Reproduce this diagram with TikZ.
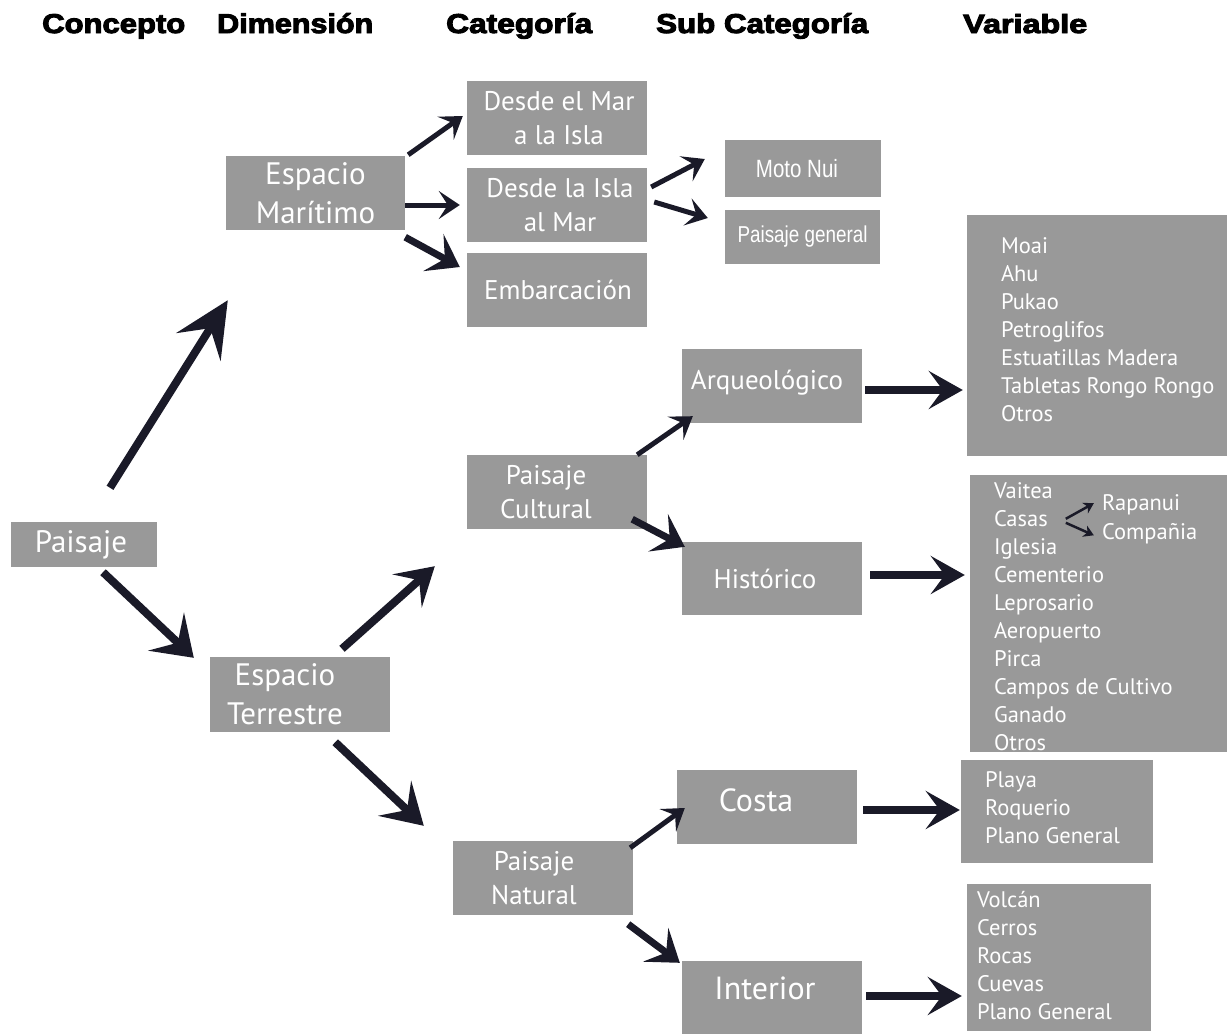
\documentclass[tikz,border=0pt]{standalone}
\usepackage{fontspec}
\setmainfont{PT Sans}
\newfontfamily\hdrfont{Liberation Sans}[BoldFeatures={FakeBold=3.5}]
\newfontfamily\condfont{Liberation Sans}[FakeStretch=0.82]
\usetikzlibrary{arrows.meta,calc}
\definecolor{boxgray}{RGB}{153,153,153}
\definecolor{arrowcol}{RGB}{26,26,40}
\begin{document}
\begin{tikzpicture}[x=1pt,y=-1pt,
  box/.style={fill=boxgray, inner sep=0pt},
  btext/.style={text=white, align=center, inner sep=0pt},
  dimf/.style={font=\fontsize{31}{39}\selectfont},
  catf/.style={font=\fontsize{27}{34}\selectfont},
  bigf/.style={font=\fontsize{32}{38}\selectfont},
  listf/.style={text=white, align=left, inner sep=0pt, font=\fontsize{22.5}{28}\selectfont},
  hdr/.style={anchor=base west, inner sep=0pt, font=\hdrfont\bfseries},
  arr/.style={draw=arrowcol, line width=#1},
  bigarr/.style={arr=8pt, -{Stealth[length=40pt,width=50pt,inset=17pt]}},
  midarr/.style={arr=5pt, -{Stealth[length=21pt,width=28pt,inset=9pt]}},
  heavyarr/.style={arr=7pt, -{Stealth[length=30pt,width=42pt,inset=13pt]}},
  harr/.style={arr=8pt, -{Stealth[length=34pt,width=38pt,inset=14pt]}},
  thinarr/.style={arr=2.5pt, -{Stealth[length=10pt,width=12pt,inset=3pt]}}
]
\useasboundingbox (0,0) rectangle (1227,1034);

% headers
\node[hdr] (h1) at (42,33) {\resizebox{143pt}{19pt}{Concepto}};
\node[hdr] (h2) at (217,33) {\resizebox{156pt}{20pt}{Dimensión}};
\node[hdr] (h3) at (446,33) {\resizebox{146pt}{20pt}{Categoría}};
\node[hdr] (h4) at (656,33) {\resizebox{212pt}{20pt}{Sub Categoría}};
\node[hdr] (h5) at (963,33) {\resizebox{124pt}{19pt}{Variable}};

% boxes
\node[box, minimum width=146pt, minimum height=45pt] (paisaje) at (84,544.5) {};
\node[btext, dimf] (paisaje-t) at ($(paisaje)+(-3,0)$) {Paisaje};

\node[box, minimum width=179pt, minimum height=74pt] (espM) at (315.5,193) {};
\node[btext, dimf] (espM-t) at (espM) {Espacio\\Marítimo};

\node[box, minimum width=180pt, minimum height=75pt] (espT) at (300,694.5) {};
\node[btext, dimf] (espT-t) at ($(espT)+(-15,0)$) {Espacio\\Terrestre};

\node[box, minimum width=180pt, minimum height=74pt] (mar) at (557,118) {};
\node[btext, catf] (mar-t) at ($(mar)+(2,0)$) {Desde el Mar\\a la Isla};

\node[box, minimum width=180pt, minimum height=74pt] (isla) at (557,205) {};
\node[btext, catf] (isla-t) at ($(isla)+(3,0)$) {Desde la Isla\\al Mar};

\node[box, minimum width=180pt, minimum height=74pt] (emb) at (557,290) {};
\node[btext, catf] (emb-t) at ($(emb)+(1,0)$) {Embarcación};

\node[box, minimum width=156pt, minimum height=57pt] (moto) at (803,168.5) {};
\node[btext, font=\condfont\fontsize{25}{30}\selectfont] (moto-t) at ($(moto)+(-6,0)$) {Moto Nui};

\node[box, minimum width=155pt, minimum height=54pt] (pgen) at (802.5,237) {};
\node[btext, font=\condfont\fontsize{23}{28}\selectfont] (pgen-t) at (pgen) {Paisaje general};

\node[box, minimum width=180pt, minimum height=74pt] (cult) at (557,492) {};
\node[btext, catf] (cult-t) at ($(cult)+(-11,0)$) {Paisaje\\Cultural};

\node[box, minimum width=180pt, minimum height=74pt] (arq) at (772,386) {};
\node[btext, catf] (arq-t) at ($(arq)+(-5,-3)$) {Arqueológico};

\node[box, minimum width=180pt, minimum height=73pt] (hist) at (772,578.5) {};
\node[btext, catf] (hist-t) at ($(hist)+(-7,0)$) {Histórico};

\node[box, minimum width=180pt, minimum height=74pt] (nat) at (543,878) {};
\node[btext, catf] (nat-t) at ($(nat)+(-9,0)$) {Paisaje\\Natural};

\node[box, minimum width=180pt, minimum height=74pt] (costa) at (767,807) {};
\node[btext, bigf] (costa-t) at ($(costa)+(-11,-7)$) {Costa};

\node[box, minimum width=180pt, minimum height=73pt] (inter) at (772,997.5) {};
\node[btext, bigf] (inter-t) at ($(inter)+(-7,-9)$) {Interior};

% variable boxes
\node[box, minimum width=260pt, minimum height=241pt] (varA) at (1097,335.5) {};
\node[listf, anchor=north west] (varA-t) at ($(varA.north west)+(34,23)$)
  {Moai\\Ahu\\Pukao\\Petroglifos\\Estuatillas Madera\\Tabletas Rongo Rongo\\Otros};

\node[box, minimum width=257pt, minimum height=277pt] (varH) at (1098.5,613.5) {};
\node[listf, anchor=north west] (varH-t) at ($(varH.north west)+(24,8)$)
  {Vaitea\\Casas\\Iglesia\\Cementerio\\Leprosario\\Aeropuerto\\Pirca\\Campos de Cultivo\\Ganado\\Otros};
\node[listf, anchor=north west] (rapa) at ($(varH.north west)+(132,20)$) {Rapanui};
\node[listf, anchor=north west] (comp) at ($(varH.north west)+(132,48)$) {Compañia};
\coordinate (casas) at ($(varH.north west)+(96,44)$);

\node[box, minimum width=192pt, minimum height=103pt] (varC) at (1057,811.5) {};
\node[listf, anchor=north west] (varC-t) at ($(varC.north west)+(24,12)$)
  {Playa\\Roquerio\\Plano General};

\node[box, minimum width=184pt, minimum height=147pt] (varI) at (1059,957.5) {};
\node[listf, anchor=north west] (varI-t) at ($(varI.north west)+(10,7)$)
  {Volcán\\Cerros\\Rocas\\Cuevas\\Plano General};

% arrows
\draw[bigarr, -{Stealth[length=55pt,width=52pt,inset=22pt]}] ($(paisaje.north)+(26,-34)$) -- ($(espM.south west)+(2,70)$);
\draw[bigarr, -{Stealth[length=38pt,width=52pt,inset=16pt]}] ($(paisaje.south)+(19,5)$) -- ($(espT.north west)+(-16,1)$);

\draw[midarr] ($(espM.north east)+(3,-1)$) -- ($(mar.west)+(-4,-2)$);
\draw[midarr] ($(espM.east)+(0,12)$) -- ($(isla.west)+(-7,0)$);
\draw[heavyarr] ($(espM.south east)+(0,7)$) -- ($(emb.west)+(-7,-23)$);

\draw[midarr] ($(isla.east)+(4,-18)$) -- ($(moto.west)+(-20,-9.5)$);
\draw[midarr] ($(isla.east)+(7,-3)$) -- ($(pgen.west)+(-17,-19)$);

\draw[bigarr, -{Stealth[length=37pt,width=44pt,inset=16pt]}] ($(espT.north)+(42,-8)$) -- ($(cult.south west)+(-32,37)$);
\draw[bigarr, -{Stealth[length=40pt,width=48pt,inset=17pt]}] ($(espT.south east)+(-55,10)$) -- ($(nat.north west)+(-29,-15)$);

\draw[midarr] ($(cult.north east)+(-10,0)$) -- ($(arq.south west)+(11,-7)$);
\draw[heavyarr] ($(cult.south east)+(-15,-10)$) -- ($(hist.north west)+(3,5)$);

\draw[harr] ($(arq.east)+(3,4)$) -- ($(varA.west)+(-4,54.5)$);
\draw[harr] ($(hist.east)+(8,-3.5)$) -- ($(varH.west)+(-5,-38.5)$);

\draw[midarr] ($(nat.north east)+(-3,7)$) -- ($(costa.west)+(8,1)$);
\draw[heavyarr] ($(nat.south east)+(-5,9)$) -- ($(inter.north west)+(-2,2)$);

\draw[harr] ($(costa.east)+(6,3)$) -- ($(varC.west)+(-1,-1.5)$);
\draw[harr] ($(inter.east)+(4,-1.5)$) -- ($(varI.west)+(-5,38.5)$);

\draw[thinarr] (casas) -- ($(rapa.west)+(-8,-2)$);
\draw[thinarr] ($(casas)+(0,4)$) -- ($(comp.west)+(-8,2)$);
\end{tikzpicture}
\end{document}
